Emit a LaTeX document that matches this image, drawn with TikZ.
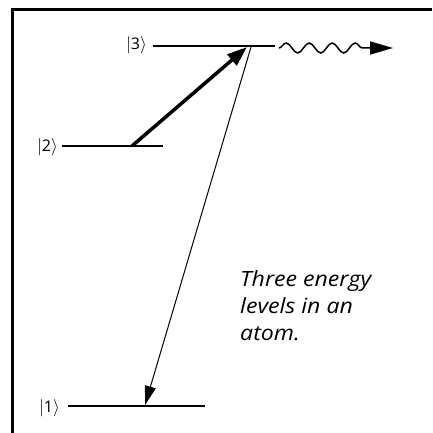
\documentclass[tikz,border=0pt]{standalone}
\usepackage{fontspec}
\setmainfont{Open Sans}
\newfontfamily\capfont[FakeStretch=1.1]{Open Sans}
\usetikzlibrary{arrows.meta,decorations.pathmorphing}
\begin{document}
\begin{tikzpicture}[x=1pt,y=-1pt,
  level/.style={line width=2.8pt},
  ket/.style={font=\fontsize{16}{16}\selectfont, inner sep=0pt, anchor=east},
  frame/.style={line width=3pt},
  pump/.style={line width=3.5pt,-{Triangle[length=20pt,width=14pt]}},
  decay/.style={line width=1pt,-{Triangle[length=19pt,width=11pt]}},
  emit/.style={line width=1.6pt,-{Triangle[length=23pt,width=13pt]}},
  caption/.style={font=\capfont\itshape\fontsize{21}{27}\selectfont, align=left, anchor=north west, inner sep=0pt}]
\useasboundingbox (0,0) rectangle (432,433);
\fill[white] (0,0) rectangle (432,433);
% frame: top and left only
\draw[frame] (12,433) -- (12,10) -- (432,10);
% levels
\coordinate (l3a) at (153,46);  \coordinate (l3b) at (275,46);
\coordinate (l2a) at (62,146);  \coordinate (l2b) at (163,146);
\coordinate (l1a) at (68,406);  \coordinate (l1b) at (205,406);
\draw[level] (l3a) -- (l3b);
\draw[level] (l2a) -- (l2b);
\draw[level] (l1a) -- (l1b);
\node[ket] (k3) at (147,45) {$|$3$\rangle$};
\node[ket] (k2) at (58,147) {$|$2$\rangle$};
\node[ket] (k1) at (60,408) {$|$1$\rangle$};
% transitions
\coordinate (p2) at (132,146);
\coordinate (p3) at (247,47);
\coordinate (d3) at (251,47);
\coordinate (d1) at (145,405);
\draw[pump] (p2) -- (p3);
\draw[decay] (d3) -- (d1);
% emitted photon
\coordinate (w0) at (279,48);
\coordinate (w1) at (370,48);
\coordinate (wt) at (393,48);
\draw[line width=1.5pt, decorate, decoration={snake, segment length=23pt, amplitude=5pt}] (w0) -- (w1);
\draw[emit] (w1) -- (wt);
% caption
\node[caption] (cap) at (240,270) {Three energy\\levels in an\\atom.};
\end{tikzpicture}
\end{document}
